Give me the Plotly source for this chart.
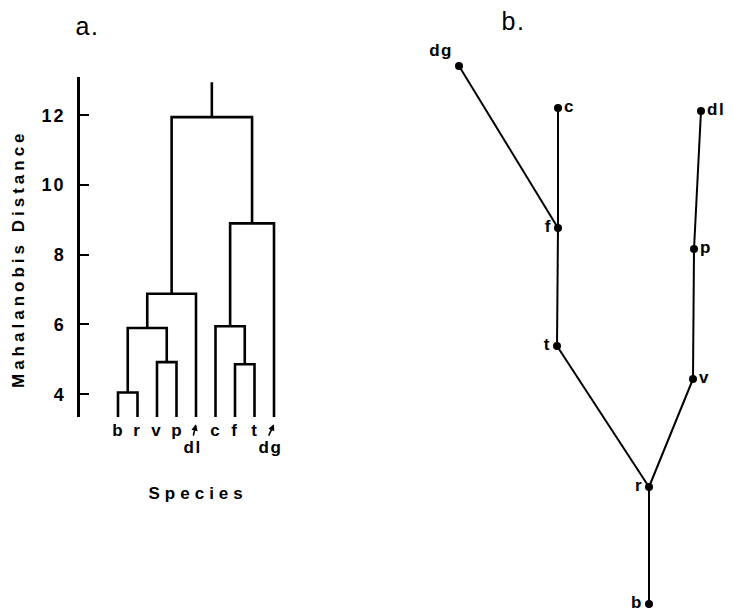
import plotly.graph_objects as go

# ---------------- data: panel a (dendrogram) ----------------
leaves = ["b", "r", "v", "p", "dl", "c", "f", "t", "dg"]
# merges: (cluster A, cluster B, Mahalanobis distance); clusters 0-8 are leaves,
# cluster 9+k is the k-th merge
merge_a = [0, 2, 6, 9, 5, 12, 13, 14]
merge_b = [1, 3, 7, 10, 11, 4, 8, 15]
merge_h = [4.05, 4.92, 4.86, 5.90, 5.95, 6.88, 8.90, 11.95]
leaf_base = 3.32
root_top = 12.95
y_ticks = [4, 6, 8, 10, 12]
arrow_leaves = ["dl", "dg"]

# ---------------- data: panel b (tree) ----------------
node_names = ["b", "r", "t", "v", "f", "p", "c", "dg", "dl"]
node_x = [649, 649, 557, 693, 558, 694, 558, 459, 701]
node_y = [604, 487, 346, 379, 228, 249, 108, 66, 111]
node_textpos = ["middle left", "middle left", "middle left", "middle right",
                "middle left", "middle right", "middle right", "top left", "middle right"]
edges = [("b", "r"), ("r", "t"), ("r", "v"), ("t", "f"), ("f", "c"),
         ("f", "dg"), ("v", "p"), ("p", "dl")]

FONT = "Liberation Sans, Arial, Helvetica, sans-serif"
W, H = 733, 613

Y_DOM = [1 - 417 / H, 1 - 77 / H]
Y_RANGE = [3.346, 13.10]


def v_to_paper(v):
    return Y_DOM[0] + (v - Y_RANGE[0]) / (Y_RANGE[1] - Y_RANGE[0]) * (Y_DOM[1] - Y_DOM[0])


# ---- build dendrogram segments ----
pos = {i: (float(i), leaf_base) for i in range(len(leaves))}
dx, dy = [], []
for k, (a, b, h) in enumerate(zip(merge_a, merge_b, merge_h)):
    xa, ya = pos[a]
    xb, yb = pos[b]
    dx += [xa, xa, xb, xb, None]
    dy += [ya, h, h, yb, None]
    pos[len(leaves) + k] = ((xa + xb) / 2, h)
xr, hr = pos[len(leaves) + len(merge_h) - 1]
dx += [xr, xr]
dy += [hr, root_top]

fig = go.Figure()
fig.add_trace(go.Scatter(x=dx, y=dy, mode="lines",
                         line=dict(color="black", width=2.6),
                         xaxis="x", yaxis="y", hoverinfo="skip", showlegend=False))

# ---- build tree edges ----
idx = {n: i for i, n in enumerate(node_names)}
ex, ey = [], []
for a, b in edges:
    ex += [node_x[idx[a]], node_x[idx[b]], None]
    ey += [node_y[idx[a]], node_y[idx[b]], None]
fig.add_trace(go.Scatter(x=ex, y=ey, mode="lines", line=dict(color="black", width=2),
                         xaxis="x2", yaxis="y2", hoverinfo="skip", showlegend=False))
fig.add_trace(go.Scatter(x=node_x, y=node_y, mode="markers+text", text=node_names,
                         textposition=node_textpos,
                         textfont=dict(family=FONT, size=17, color="black", weight="bold"),
                         marker=dict(color="black", size=8),
                         xaxis="x2", yaxis="y2", hoverinfo="skip", showlegend=False))

lab_font = dict(family=FONT, size=17, color="black", weight="bold")
annotations = []
# leaf labels
for i, name in enumerate(leaves):
    if name in arrow_leaves:
        annotations.append(dict(x=i, y=v_to_paper(2.48), xref="x", yref="paper", text=name,
                                showarrow=False, xanchor="center", yanchor="middle",
                                xshift=-4, font=lab_font))
        annotations.append(dict(x=i, y=v_to_paper(3.14), xref="x", yref="paper", text="",
                                showarrow=True, arrowhead=2, arrowsize=0.8, arrowwidth=1.6,
                                arrowcolor="black", ax=-3 if name == "dl" else -6, ay=13))
    else:
        annotations.append(dict(x=i, y=v_to_paper(2.97), xref="x", yref="paper", text=name,
                                showarrow=False, xanchor="center", yanchor="middle",
                                font=lab_font))

annotations += [
    dict(x=198 / W, y=1 - 494 / H, xref="paper", yref="paper", text="Species", showarrow=False,
         xanchor="center", yanchor="middle",
         font=dict(family=FONT, size=17, color="black", weight="bold")),
    dict(x=18 / W, y=1 - 259 / H, xref="paper", yref="paper", text="Mahalanobis Distance",
         textangle=-90, showarrow=False, xanchor="center", yanchor="middle",
         font=dict(family=FONT, size=17, color="black", weight="bold")),
    dict(x=87 / W, y=1 - 26 / H, xref="paper", yref="paper", text="a.", showarrow=False,
         xanchor="center", yanchor="middle", font=dict(family=FONT, size=25, color="black")),
    dict(x=513 / W, y=1 - 21 / H, xref="paper", yref="paper", text="b.", showarrow=False,
         xanchor="center", yanchor="middle", font=dict(family=FONT, size=25, color="black")),
]

px_per_leaf = 19.5
x0_leaf = 118
fig.update_layout(
    width=W, height=H,
    margin=dict(l=0, r=0, t=0, b=0, pad=0),
    paper_bgcolor="white", plot_bgcolor="rgba(0,0,0,0)",
    showlegend=False,
    xaxis=dict(domain=[80 / W, 300 / W],
               range=[(80 - x0_leaf) / px_per_leaf, (300 - x0_leaf) / px_per_leaf],
               visible=False, anchor="y"),
    yaxis=dict(domain=Y_DOM, range=Y_RANGE, anchor="x",
               showline=True, linewidth=2.5, linecolor="black",
               ticks="inside", ticklen=9, tickwidth=2, tickcolor="black",
               tickvals=y_ticks, ticktext=[str(v) for v in y_ticks],
               tickfont=dict(family=FONT, size=18, color="black", weight="bold"),
               ticklabelstandoff=8, showgrid=False, zeroline=False),
    xaxis2=dict(domain=[0, 1], range=[0, W], visible=False, anchor="y2"),
    yaxis2=dict(domain=[0, 1], range=[H, 0], visible=False, anchor="x2"),
    annotations=annotations,
)

post = """
var s = document.createElement('style');
s.textContent = 'body{margin:0;padding:0;overflow:hidden}' +
 '.main-svg text{letter-spacing:1.5px}' +
 '.annotation-text[data-unformatted="Species"]{letter-spacing:5px}' +
 '.annotation-text[data-unformatted="Mahalanobis Distance"]{letter-spacing:4px}' +
 '.ytick text{letter-spacing:2px}';
document.head.appendChild(s);
"""
fig.write_html("out.html", post_script=post, config={"displayModeBar": False})
